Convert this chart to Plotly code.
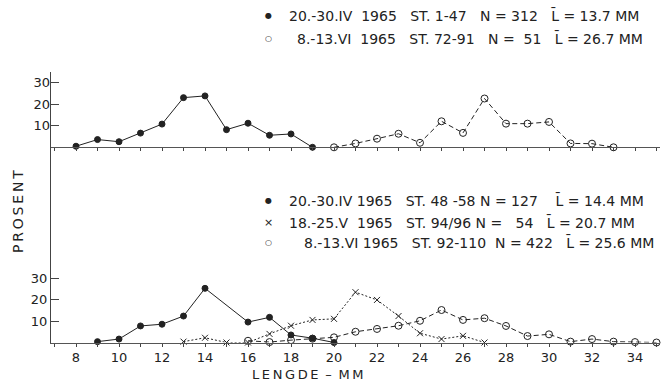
import plotly.graph_objects as go

W, H = 666, 383

# ---- data ----
top_a_x = list(range(8, 20))
top_a_y = [0.5, 3.6, 2.6, 6.6, 10.8, 23.1, 23.9, 8.2, 11.2, 5.6, 6.2, 0]
top_b_x = list(range(20, 34))
top_b_y = [0, 1.8, 4.0, 6.3, 2.1, 12.1, 6.7, 22.7, 11.0, 11.0, 11.8, 1.8, 1.7, 0]

bot_a_x = [9, 10, 11, 12, 13, 14, 16, 17, 18, 19, 20]
bot_a_y = [0.4, 1.6, 7.7, 8.5, 12.3, 25.2, 9.5, 11.7, 3.5, 2.0, 0]
bot_x_x = list(range(13, 28))
bot_x_y = [0.4, 2.2, 0, 0, 4.0, 7.8, 10.5, 11.0, 23.4, 19.8, 12.3, 4.3, 1.6, 3.1, 0]
bot_o_x = list(range(16, 36))
bot_o_y = [0.8, 0.2, 1.1, 1.8, 2.4, 5.0, 6.3, 7.8, 10.1, 15.1, 10.5, 11.3, 7.7, 3.0, 3.8, 0.4, 1.6, 0.4, 0.2, 0]

x_ticks = list(range(7, 36))
x_ticktext = [str(v) if v % 2 == 0 and v >= 8 else "" for v in x_ticks]
y_ticks = [10, 20, 30]

NB = "\u00a0"
top_legend = [
    f"20.-30.IV{NB} 1965{NB}{NB} ST. 1-47{NB}{NB} N = 312{NB}{NB} L\u0304 = 13.7 MM",
    f"8.-13.VI{NB} 1965{NB}{NB} ST. 72-91{NB}{NB} N ={NB} 51{NB}{NB} L\u0304 = 26.7 MM",
]
bot_legend = [
    f"20.-30.IV 1965{NB}{NB} ST. 48 -58 N = 127{NB}{NB}{NB} L\u0304 = 14.4 MM",
    f"18.-25.V{NB} 1965{NB}{NB} ST. 94/96 N ={NB}{NB} 54{NB}{NB} L\u0304 = 20.7 MM",
    f"8.-13.VI 1965{NB}{NB} ST. 92-110{NB} N = 422{NB}{NB} L\u0304 = 25.6 MM",
]

FONT = "DejaVu Sans"
INK = "#222222"

# ---- geometry (pixels) ----
x_left, x_right = 51, 660
px_per_mm = 21.5
x0_mm = 8 - (76 - x_left) / px_per_mm
x1_mm = x0_mm + (x_right - x_left) / px_per_mm
y_top_px = 72
top_base_px = 147.3
bot_base_px = 342.5
px_per_pct = 2.15

def py(p):
    return 1 - p / H

def pxx(p):
    return p / W

fig = go.Figure()

solid = dict(color=INK, width=1)
dashed = dict(color=INK, width=1, dash="5px,3px")
dotted = dict(color=INK, width=1, dash="2px,2px")
m_fill = dict(symbol="circle", size=6, color=INK, line=dict(color=INK, width=1))
m_open = dict(symbol="circle-open", size=7, color=INK, line=dict(width=1))
m_x = dict(symbol="x-thin-open", size=6, color=INK, line=dict(width=1, color=INK))

fig.add_trace(go.Scatter(x=top_b_x, y=top_b_y, mode="lines+markers", line=dashed,
                         marker=m_open, xaxis="x2", yaxis="y2", cliponaxis=False))
fig.add_trace(go.Scatter(x=top_a_x, y=top_a_y, mode="lines+markers", line=solid,
                         marker=m_fill, xaxis="x2", yaxis="y2", cliponaxis=False))
fig.add_trace(go.Scatter(x=bot_o_x, y=bot_o_y, mode="lines+markers", line=dashed,
                         marker=m_open, cliponaxis=False))
fig.add_trace(go.Scatter(x=bot_x_x, y=bot_x_y, mode="lines+markers", line=dotted,
                         marker=m_x, cliponaxis=False))
fig.add_trace(go.Scatter(x=bot_a_x, y=bot_a_y, mode="lines+markers", line=solid,
                         marker=m_fill, cliponaxis=False))

tickfont = dict(family=FONT, size=13, color=INK)

fig.update_layout(
    width=W, height=H, margin=dict(l=0, r=0, t=0, b=0),
    paper_bgcolor="white", plot_bgcolor="white", showlegend=False,
    xaxis=dict(domain=[pxx(x_left), pxx(x_right)], range=[x0_mm, x1_mm],
               anchor="y", showline=True, linecolor="#555", linewidth=1,
               tickmode="array", tickvals=x_ticks, ticktext=x_ticktext,
               ticks="outside", ticklen=3, tickcolor="#444", showgrid=False,
               zeroline=False, tickfont=tickfont, automargin=False),
    yaxis=dict(domain=[py(bot_base_px), py(y_top_px)],
               range=[0, (bot_base_px - y_top_px) / px_per_pct],
               showline=True, linecolor="#444", linewidth=1,
               tickmode="array", tickvals=y_ticks, ticks="inside", ticklen=8,
               tickcolor="#444", showgrid=False, zeroline=False, tickfont=tickfont,
               automargin=False),
    xaxis2=dict(domain=[pxx(x_left), pxx(x_right)], range=[x0_mm, x1_mm],
                anchor="y2", showline=True, linecolor="#555", linewidth=1,
                tickmode="array", tickvals=x_ticks, showticklabels=False,
                ticks="outside", ticklen=3, tickcolor="#444", showgrid=False,
                zeroline=False, automargin=False),
    yaxis2=dict(domain=[py(top_base_px), py(y_top_px)],
                range=[0, (top_base_px - y_top_px) / px_per_pct],
                anchor="x2", showline=False,
                tickmode="array", tickvals=y_ticks, ticks="inside", ticklen=8,
                tickcolor="#444", showgrid=False, zeroline=False, tickfont=tickfont,
                automargin=False),
)

ann = []
leg_font = dict(family=FONT, size=14, color=INK)
top_rows = [(16, 287, "●"), (39, 295, "○")]
for (yy, xx, sym), txt in zip(top_rows, top_legend):
    ann.append(dict(x=pxx(xx), y=py(yy), xref="paper", yref="paper", text=txt,
                    showarrow=False, xanchor="left", yanchor="middle", font=leg_font))
    ann.append(dict(x=pxx(268), y=py(yy), xref="paper", yref="paper", text=sym,
                    showarrow=False, xanchor="center", yanchor="middle",
                    font=dict(family=FONT, size=8, color=INK)))
bot_rows = [(200, 287, "●"), (222, 287, "×"), (243, 302, "○")]
for (yy, xx, sym), txt in zip(bot_rows, bot_legend):
    ann.append(dict(x=pxx(xx), y=py(yy), xref="paper", yref="paper", text=txt,
                    showarrow=False, xanchor="left", yanchor="middle", font=leg_font))
    ann.append(dict(x=pxx(268), y=py(yy), xref="paper", yref="paper", text=sym,
                    showarrow=False, xanchor="center", yanchor="middle",
                    font=dict(family=FONT, size=8 if sym != "×" else 11, color=INK)))

ann.append(dict(x=pxx(18), y=py(212), xref="paper", yref="paper",
                text="P\u2009R\u2009O\u2009S\u2009E\u2009N\u2009T", textangle=-90,
                showarrow=False, xanchor="center", yanchor="middle",
                font=dict(family=FONT, size=14, color=INK)))
ann.append(dict(x=pxx(307), y=py(374), xref="paper", yref="paper",
                text="L\u2009E\u2009N\u2009G\u2009D\u2009E\u2009 \u2013\u2009 M\u2009M",
                showarrow=False, xanchor="center", yanchor="middle",
                font=dict(family=FONT, size=13, color=INK)))
fig.update_layout(annotations=ann)

fig.write_html("out.html", config={"displayModeBar": False},
               post_script="document.body.style.margin='0';document.body.style.padding='0';")
